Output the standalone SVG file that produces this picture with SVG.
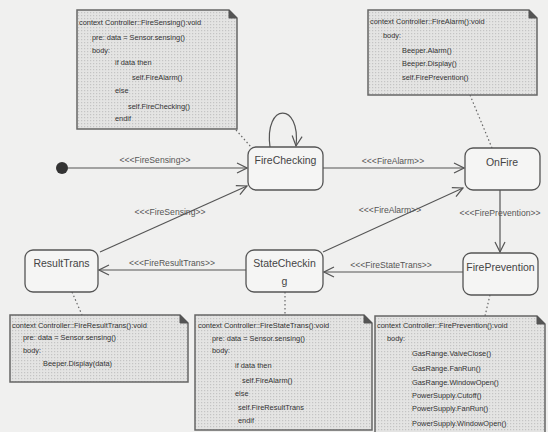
<svg xmlns="http://www.w3.org/2000/svg" width="548" height="432" viewBox="0 0 548 432">
<style>
.state{fill:#f5f5f4;stroke:#555;stroke-width:1.3}
.note{fill:url(#dots);stroke:#666;stroke-width:1.5}
.fold{fill:#555;stroke:#555;stroke-width:1}
.st{font-family:"Liberation Sans",Arial,sans-serif;font-size:10.5px;fill:#444;text-anchor:middle}
.nt{font-family:"Liberation Sans",Arial,sans-serif;font-size:7.4px;fill:#333}
.el{font-family:"Liberation Sans",Arial,sans-serif;font-size:8.6px;fill:#555;text-anchor:middle}
.edge{fill:none;stroke:#555;stroke-width:1.2}
.dot{fill:none;stroke:#666;stroke-width:1.2;stroke-dasharray:1.5 2.5}
</style>
<defs>
<pattern id="dots" width="3" height="3" patternUnits="userSpaceOnUse">
<rect width="3" height="3" fill="#e4e4e3"/>
<rect width="1.2" height="1.2" fill="#c4c4c4"/>
</pattern>
<marker id="arr" viewBox="0 0 12 12" refX="11" refY="6" markerWidth="12" markerHeight="12" markerUnits="userSpaceOnUse" orient="auto">
<path d="M1,1 L11,6 L1,11" fill="none" stroke="#555" stroke-width="1.2"/>
</marker>
</defs>
<rect width="548" height="432" fill="#f0f0ef"/>

<g id="connectors">
<path class="edge" d="M68,168 H247" marker-end="url(#arr)"/>
<path class="edge" d="M100,252 L247,186" marker-end="url(#arr)"/>
<path class="edge" d="M323,168 H464" marker-end="url(#arr)"/>
<path class="edge" d="M323,252 L463,188" marker-end="url(#arr)"/>
<path class="edge" d="M500,190 V252" marker-end="url(#arr)"/>
<path class="edge" d="M463,272 H324" marker-end="url(#arr)"/>
<path class="edge" d="M246,270 H99" marker-end="url(#arr)"/>
<path class="edge" d="M270,147 C264,102 301,102 296,146" marker-end="url(#arr)"/>
<path class="dot" d="M236,130 L251,147"/>
<path class="dot" d="M470,95 L492,148"/>
<path class="dot" d="M72,292 L82,315"/>
<path class="dot" d="M285,292 V315"/>
<path class="dot" d="M490,295 L485,316"/>
<text class="el" x="155" y="163">&lt;&lt;&lt;FireSensing&gt;&gt;</text>
<text class="el" x="170" y="215">&lt;&lt;&lt;FireSensing&gt;&gt;</text>
<text class="el" x="393" y="164">&lt;&lt;&lt;FireAlarm&gt;&gt;</text>
<text class="el" x="390" y="213">&lt;&lt;&lt;FireAlarm&gt;&gt;</text>
<text class="el" x="500" y="216">&lt;&lt;&lt;FirePrevention&gt;&gt;</text>
<text class="el" x="391" y="268">&lt;&lt;&lt;FireStateTrans&gt;&gt;</text>
<text class="el" x="172" y="266">&lt;&lt;&lt;FireResultTrans&gt;&gt;</text>
</g>

<g id="initial">
<circle cx="62" cy="168" r="6" fill="#333"/>
</g>

<g id="FireChecking">
<rect class="state" x="248" y="147" width="75" height="43" rx="8"/>
<text class="st" x="285.5" y="164">FireChecking</text>
</g>
<g id="OnFire">
<rect class="state" x="465" y="148" width="75" height="42" rx="8"/>
<text class="st" x="502" y="166">OnFire</text>
</g>
<g id="FirePrevention">
<rect class="state" x="463" y="253" width="75" height="42" rx="8"/>
<text class="st" x="500.5" y="271">FirePrevention</text>
</g>
<g id="StateChecking">
<rect class="state" x="246" y="250" width="77" height="42" rx="8"/>
<text class="st" x="284.5" y="267">StateCheckin</text>
<text class="st" x="284.5" y="285">g</text>
</g>
<g id="ResultTrans">
<rect class="state" x="25" y="250" width="73" height="42" rx="8"/>
<text class="st" x="61.5" y="267">ResultTrans</text>
</g>

<g id="note-FireSensing">
<path class="note" d="M77,10 H229 L237,18 V129 H77 Z"/>
<path class="fold" d="M229,10 V18 H237 Z"/>
<text class="nt" x="79" y="25">context Controller::FireSensing():void</text>
<text class="nt" x="92" y="40">pre: data = Sensor.sensing()</text>
<text class="nt" x="92" y="53">body:</text>
<text class="nt" x="115" y="65">if data then</text>
<text class="nt" x="132" y="80">self.FireAlarm()</text>
<text class="nt" x="115" y="93">else</text>
<text class="nt" x="128" y="109">self.FireChecking()</text>
<text class="nt" x="115" y="121">endif</text>
</g>

<g id="note-FireAlarm">
<path class="note" d="M368,10 H529 L537,18 V95 H368 Z"/>
<path class="fold" d="M529,10 V18 H537 Z"/>
<text class="nt" x="370" y="24">context Controller::FireAlarm():void</text>
<text class="nt" x="383" y="38">body:</text>
<text class="nt" x="402" y="53">Beeper.Alarm()</text>
<text class="nt" x="402" y="66">Beeper.Display()</text>
<text class="nt" x="402" y="80">self.FirePrevention()</text>
</g>

<g id="note-FireResultTrans">
<path class="note" d="M10,315 H180 L188,323 V382 H10 Z"/>
<path class="fold" d="M180,315 V323 H188 Z"/>
<text class="nt" x="12" y="328">context Controller::FireResultTrans():void</text>
<text class="nt" x="23" y="340">pre: data = Sensor.sensing()</text>
<text class="nt" x="23" y="353">body:</text>
<text class="nt" x="43" y="366">Beeper.Display(data)</text>
</g>

<g id="note-FireStateTrans">
<path class="note" d="M195,315 H364 L372,323 V430 H195 Z"/>
<path class="fold" d="M364,315 V323 H372 Z"/>
<text class="nt" x="198" y="328">context Controller::FireStateTrans():void</text>
<text class="nt" x="212" y="341">pre: data = Sensor.sensing()</text>
<text class="nt" x="212" y="353">body:</text>
<text class="nt" x="235" y="368">if data then</text>
<text class="nt" x="242" y="383">self.FireAlarm()</text>
<text class="nt" x="235" y="396">else</text>
<text class="nt" x="238" y="410">self.FireResultTrans</text>
<text class="nt" x="238" y="423">endif</text>
</g>

<g id="note-FirePrevention">
<path class="note" d="M375,316 H537 L545,324 V436 H375 Z"/>
<path class="fold" d="M537,316 V324 H545 Z"/>
<text class="nt" x="377" y="328">context Controller::FirePrevention():void</text>
<text class="nt" x="387" y="341">body:</text>
<text class="nt" x="412" y="356">GasRange.ValveClose()</text>
<text class="nt" x="412" y="371">GasRange.FanRun()</text>
<text class="nt" x="412" y="385">GasRange.WindowOpen()</text>
<text class="nt" x="412" y="398">PowerSupply.Cutoff()</text>
<text class="nt" x="412" y="411">PowerSupply.FanRun()</text>
<text class="nt" x="412" y="426">PowerSupply.WindowOpen()</text>
</g>
</svg>
